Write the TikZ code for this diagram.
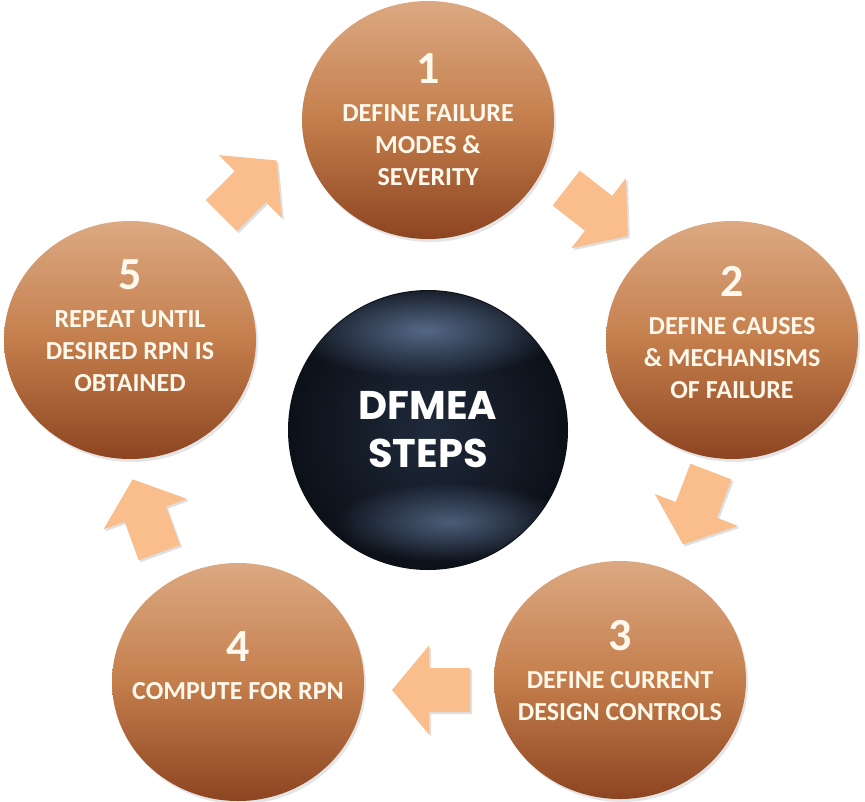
\documentclass[tikz,border=0pt]{standalone}
\usepackage{fontspec}
\setmainfont{Carlito}
\newfontfamily\gothicfont{Poppins}
\usetikzlibrary{shapes.geometric,shadows,fadings}

\definecolor{steptop}{HTML}{DCA982}
\definecolor{stepmid}{HTML}{C47E4C}
\definecolor{stepbot}{HTML}{8C4520}
\definecolor{arrowfill}{HTML}{F9BE8C}
\definecolor{coredark}{HTML}{0C1018}
\definecolor{coremid}{HTML}{1F2A3B}
\definecolor{corelight}{HTML}{6A82A6}
\definecolor{cream}{HTML}{FFF8EC}

\tikzfading[name=glowfade,inner color=transparent!0,outer color=transparent!100]

\tikzset{
  stepball/.style={ellipse,minimum width=252pt,minimum height=238pt,inner sep=0pt,
    top color=steptop,bottom color=stepbot,middle color=stepmid,
    drop shadow={opacity=0.2,shadow xshift=2pt,shadow yshift=-3pt}},
  steplabel/.style={text=cream,align=center,font=\fontsize{26}{32}\selectfont\bfseries},
  cyclearrow/.pic={
    \fill[arrowfill,drop shadow={opacity=0.25,shadow xshift=2pt,shadow yshift=-2pt}]
      (-39,-22) -- (2,-22) -- (2,-44.5) -- (39,0) -- (2,44.5) -- (2,22) -- (-39,22) -- cycle;
  }
}

\newcommand{\stepnum}[1]{{\fontsize{46}{46}\selectfont #1}\\[6pt]}

\begin{document}
\begin{tikzpicture}[x=1pt,y=-1pt]
\path[fill=white,use as bounding box] (0,0) rectangle (865,801);

\coordinate (c1) at (428,120);
\coordinate (c2) at (732,340);
\coordinate (c3) at (620,680);
\coordinate (c4) at (238,682);
\coordinate (c5) at (130,340);

% arrows round the ring
\pic[rotate=45] (a51) at (249,188) {cyclearrow};
\pic[rotate=-38] (a12) at (597,212) {cyclearrow};
\pic[rotate=-111] (a23) at (697,508) {cyclearrow};
\pic[rotate=180] (a34) at (431,690) {cyclearrow};
\pic[rotate=110] (a45) at (146,516) {cyclearrow};

\node[stepball] (s1) at (c1) {};
\node[stepball] (s2) at (c2) {};
\node[stepball] (s3) at (c3) {};
\node[stepball] (s4) at (c4) {};
\node[stepball] (s5) at (c5) {};

\node[steplabel] (l1) at ([yshift=0pt]s1) {\stepnum{1}DEFINE FAILURE\\MODES \&\\SEVERITY};
\node[steplabel] (l2) at ([yshift=7pt]s2) {\stepnum{2}DEFINE CAUSES\\\& MECHANISMS\\OF FAILURE};
\node[steplabel] (l3) at ([yshift=10pt]s3) {\stepnum{3}DEFINE CURRENT\\DESIGN CONTROLS};
\node[steplabel] (l4) at ([yshift=16pt]s4) {\stepnum{4}COMPUTE FOR RPN};
\node[steplabel] (l5) at ([yshift=14pt]s5) {\stepnum{5}REPEAT UNTIL\\DESIRED RPN IS\\OBTAINED};

% dark sphere in the middle
\node[circle,minimum size=280pt,inner sep=0pt,inner color=coremid,outer color=coredark] (core) at (428,430) {};
\begin{scope}
\clip (core.center) circle (139pt);
\fill[corelight,path fading=glowfade,opacity=0.75] (425,330) ellipse (135pt and 48pt);
\fill[corelight,path fading=glowfade,opacity=0.65] (450,522) ellipse (115pt and 40pt);
\end{scope}
\node[text=white,align=center,font=\gothicfont\bfseries\fontsize{40}{48}\selectfont] (title) at (core) {DFMEA\\STEPS};
\end{tikzpicture}
\end{document}
